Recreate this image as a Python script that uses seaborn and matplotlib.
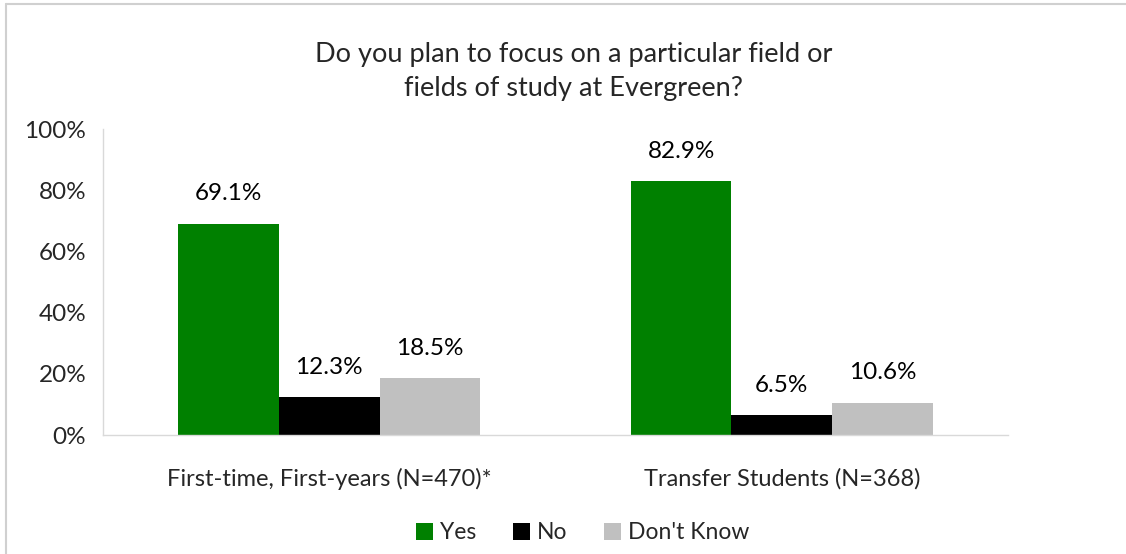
import pandas as pd
import numpy as np
import matplotlib.pyplot as plt
import matplotlib.lines as mlines
import seaborn as sns

# Data
groups = ['First-time, First-years (N=470)*', 'Transfer Students (N=368)']
answers = ['Yes', 'No', "Don't Know"]
yes_pct = [69.1, 82.9]
no_pct = [12.3, 6.5]
dont_know_pct = [18.5, 10.6]
colors = ['#008000', '#000000', '#c0c0c0']

df = pd.DataFrame({
    'group': groups * 3,
    'answer': [a for a in answers for _ in groups],
    'pct': yes_pct + no_pct + dont_know_pct,
})

sns.set_theme(style='white')
plt.rcParams['font.family'] = ['Lato', 'DejaVu Sans']
axis_grey = '#d9d9d9'

fig = plt.figure(figsize=(11.26, 5.54), dpi=100)
ax = fig.add_axes([0.0915, 0.2148, 0.8037, 0.5523])

sns.barplot(data=df, x='group', y='pct', hue='answer', hue_order=answers,
            palette=colors, width=0.667, gap=0, saturation=1,
            edgecolor='none', linewidth=0, ax=ax, legend=True)

ax.set_xlim(-0.5, 1.5)
ax.set_ylim(0, 100)
ax.set_yticks(np.arange(0, 101, 20))
ax.set_yticklabels([f'{v}%' for v in range(0, 101, 20)], fontsize=17.5)
ax.set_xlabel('')
ax.set_ylabel('')
ax.tick_params(axis='x', length=0, labelsize=17, pad=24)
ax.tick_params(axis='y', length=6, width=1, color=axis_grey, direction='out', pad=6)

# category boundary ticks on the x axis
ax.set_xticks([-0.5, 0.5, 1.5], minor=True)
ax.tick_params(axis='x', which='minor', length=7, width=1, color=axis_grey, direction='out')

for side in ['top', 'right']:
    ax.spines[side].set_visible(False)
for side in ['left', 'bottom']:
    ax.spines[side].set_color(axis_grey)
    ax.spines[side].set_linewidth(1)

for cont in ax.containers:
    ax.bar_label(cont, labels=[f'{v:.1f}%' for v in cont.datavalues],
                 padding=14, fontsize=17.5, color='#000000')

ax.set_title('Do you plan to focus on a particular field or\nfields of study at Evergreen?',
             fontsize=19.5, linespacing=1.45, pad=24, x=0.52)

handles, labels = ax.get_legend_handles_labels()
ax.legend(handles, labels, loc='center', bbox_to_anchor=(0.53, -0.32),
          ncol=3, frameon=False, fontsize=16.5, handlelength=0.75, handleheight=0.75,
          handletextpad=0.3, columnspacing=1.6)

# light border along the top and left edges of the image
fig.add_artist(mlines.Line2D([6 / 1126, 1], [1 - 4 / 554, 1 - 4 / 554],
                             transform=fig.transFigure, color='#d0d0d0', linewidth=1.5))
fig.add_artist(mlines.Line2D([6 / 1126, 6 / 1126], [0, 1 - 4 / 554],
                             transform=fig.transFigure, color='#d0d0d0', linewidth=1.5))

fig.savefig('out.png', dpi=100)
